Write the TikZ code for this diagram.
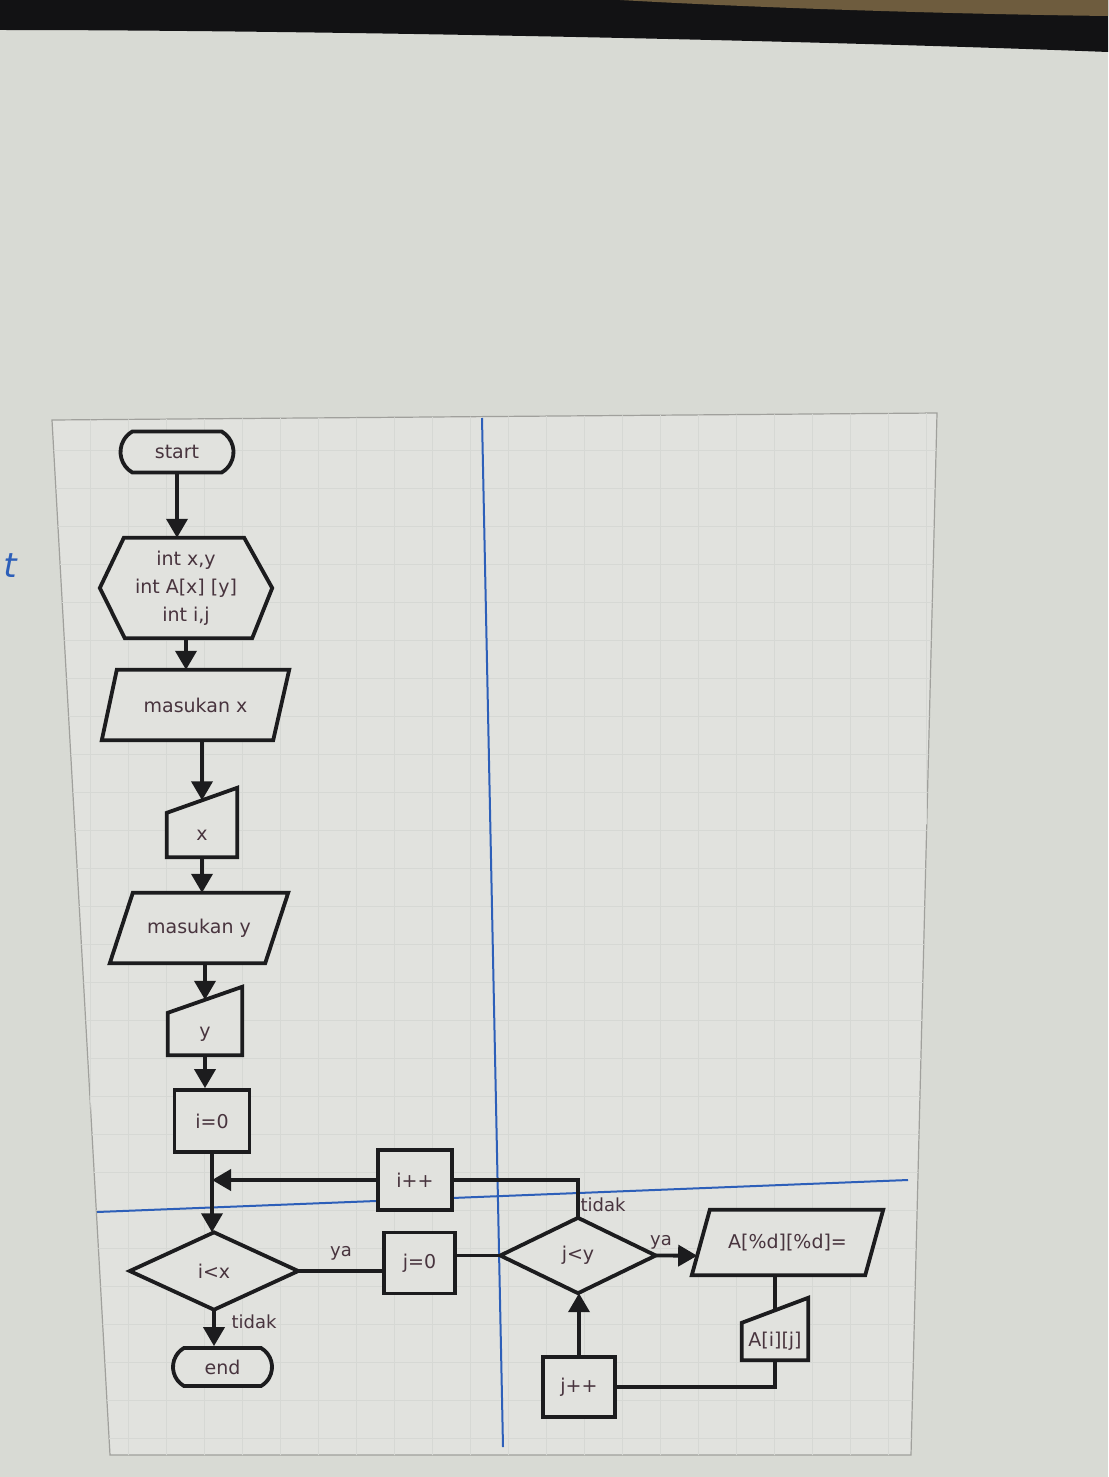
\documentclass[tikz,border=0pt]{standalone}
\usepackage{fontspec}
\setmainfont{DejaVu Sans}
\usetikzlibrary{arrows.meta,calc,shapes.misc}
\pgfdeclarelayer{back}
\pgfdeclarelayer{mid}
\pgfsetlayers{back,mid,main}
\definecolor{bgc}{RGB}{216,218,212}
\definecolor{pagec}{RGB}{225,226,222}
\definecolor{inkc}{RGB}{28,28,30}
\definecolor{txtc}{RGB}{72,52,62}
\definecolor{bluec}{RGB}{45,95,185}
\definecolor{framec}{RGB}{160,160,156}
\definecolor{gridc}{RGB}{214,216,212}
\definecolor{bandc}{RGB}{18,18,20}
\definecolor{brownc}{RGB}{110,92,62}
\begin{document}
\begin{tikzpicture}[x=1pt,y=-1pt,
  ghost/.style={inner sep=0pt,font=\fontsize{19}{24}\selectfont,text=txtc},
  proc/.style={ghost,draw=inkc,line width=3.8pt,fill=pagec},
  term/.style={proc,rounded rectangle,rounded rectangle arc length=120},
  outl/.style={draw=inkc,line width=3.8pt,fill=pagec,line join=miter},
  lbl/.style={font=\fontsize{18}{22}\selectfont,text=txtc,inner sep=0pt},
  conn/.style={draw=inkc,line width=3.8pt},
  arr/.style={conn,-{Triangle[width=21pt,length=19pt]}}]
\useasboundingbox (0,0) rectangle (1108,1477);
\begin{pgfonlayer}{back}
  \fill[bgc] (0,0) rectangle (1108,1477);
  \fill[bandc] (0,0) -- (1108,0) -- (1108,52) .. controls (800,40) and (300,30) .. (0,30) -- cycle;
  \fill[brownc] (620,0) -- (1108,0) -- (1108,16) .. controls (950,14) and (760,8) .. (620,0) -- cycle;
  \filldraw[fill=pagec,draw=framec,line width=1.2pt] (52,420) -- (937,413) -- (911,1455) -- (110,1455) -- cycle;
  \begin{scope}
    \clip (52,420) -- (937,413) -- (911,1455) -- (110,1455) -- cycle;
    \foreach \gx in {90,128,...,930} \draw[gridc,line width=0.7pt] (\gx,400) -- (\gx,1470);
    \foreach \gy in {450,488,...,1450} \draw[gridc,line width=0.7pt] (40,\gy) -- (950,\gy);
  \end{scope}
  \draw[bluec,line width=2pt] (482,418) -- (503,1447);
  \draw[bluec,line width=2pt] (97,1212) -- (908,1180);
  \node[text=bluec,font=\fontsize{34}{34}\selectfont\itshape,anchor=east,inner sep=0pt] (mark) at (17,566) {t};
\end{pgfonlayer}

\node[term,minimum width=113pt,minimum height=41pt] (start) at (177,452) {start};
\node[ghost,minimum width=172pt,minimum height=100pt,align=center,font=\fontsize{19}{28}\selectfont] (decl) at (186,588) {int x,y\\int A[x] [y]\\int i,j};
\node[ghost,minimum width=187pt,minimum height=70pt] (mx) at (195.5,705) {masukan x};
\node[ghost,minimum width=70pt,minimum height=44pt] (inx) at (202,835) {x};
\node[ghost,minimum width=178pt,minimum height=70pt] (my) at (199,928) {masukan y};
\node[ghost,minimum width=74pt,minimum height=42pt] (iny) at (205,1034) {y};
\node[proc,minimum width=75pt,minimum height=62pt] (i0) at (212,1121) {i=0};
\node[proc,minimum width=74pt,minimum height=60pt] (ipp) at (415,1180) {i++};
\node[ghost,minimum width=168pt,minimum height=77pt] (dia) at (214,1271) {i<x};
\node[proc,minimum width=71pt,minimum height=61pt] (j0) at (419.5,1263) {j=0};
\node[ghost,minimum width=155pt,minimum height=75pt] (jy) at (578,1255.5) {j<y};
\node[ghost,minimum width=191pt,minimum height=65pt] (pA) at (787.5,1242.5) {A[\%d][\%d]=};
\node[ghost,minimum width=66pt,minimum height=37pt] (inA) at (775,1341.5) {A[i][j]};
\node[proc,minimum width=72pt,minimum height=60pt] (jpp) at (579,1387) {j++};
\node[term,minimum width=99pt,minimum height=38pt] (fin) at (222.5,1367) {end};

\begin{pgfonlayer}{mid}
  \draw[outl] (decl.west) -- ($(decl.north west)+(24,0)$) -- ($(decl.north east)+(-28,0)$) -- (decl.east) -- ($(decl.south east)+(-20,0)$) -- ($(decl.south west)+(25,0)$) -- cycle;
  \draw[outl] (mx.south west) -- ($(mx.south east)+(-16,0)$) -- (mx.north east) -- ($(mx.north west)+(15,0)$) -- cycle;
  \draw[outl] (inx.south west) -- (inx.south east) -- ($(inx.north east)+(0,-25)$) -- (inx.north west) -- cycle;
  \draw[outl] (my.south west) -- ($(my.south east)+(-23,0)$) -- (my.north east) -- ($(my.north west)+(23,0)$) -- cycle;
  \draw[outl] (iny.south west) -- (iny.south east) -- ($(iny.north east)+(0,-26)$) -- (iny.north west) -- cycle;
  \draw[outl] (dia.west) -- (dia.north) -- (dia.east) -- (dia.south) -- cycle;
  \draw[outl] (jy.west) -- (jy.north) -- (jy.east) -- (jy.south) -- cycle;
  \draw[outl] (pA.south west) -- ($(pA.south east)+(-18,0)$) -- (pA.north east) -- ($(pA.north west)+(18,0)$) -- cycle;
  \draw[outl] (inA.south west) -- (inA.south east) -- ($(inA.north east)+(0,-25)$) -- (inA.north west) -- cycle;
\end{pgfonlayer}

\draw[arr] (start.south) -- (start.south |- decl.north);
\draw[arr] (decl.south) -- (decl.south |- mx.north);
\draw[arr] (mx.south -| inx.north) -- ($(inx.north)+(0,-12.5)$);
\draw[arr] (inx.south) -- (inx.south |- my.north);
\draw[arr] (my.south -| iny.north) -- ($(iny.north)+(0,-13)$);
\draw[arr] (iny.south) -- (iny.south |- i0.north);
\draw[conn] (i0.south) -- (i0.south |- ipp.west) coordinate (jn);
\draw[arr] (jn) -- (jn |- dia.north);
\draw[arr] (ipp.west) -- (jn);
\draw[conn] (dia.east) -- (dia.east -| j0.west);
\draw[conn] (jy.west -| j0.east) -- (jy.west);
\draw[conn] (jy.north) |- (ipp.east);
\draw[arr] (jy.east) -- ($(pA.south west)+(5.4,-19.5)$);
\draw[conn] (pA.south -| inA.north) -- ($(inA.north)+(0,-12.5)$);
\draw[conn] (inA.south) |- (jpp.east);
\draw[arr] (jpp.north) -- (jpp.north |- jy.south);
\draw[arr] (dia.south) -- (dia.south |- fin.north);

\node[lbl] (ya1) at (341,1253) {ya};
\node[lbl] (td1) at (254,1322) {tidak};
\node[lbl] (ya2) at (661,1242) {ya};
\node[lbl] (td2) at (603,1205) {tidak};
\end{tikzpicture}
\end{document}
